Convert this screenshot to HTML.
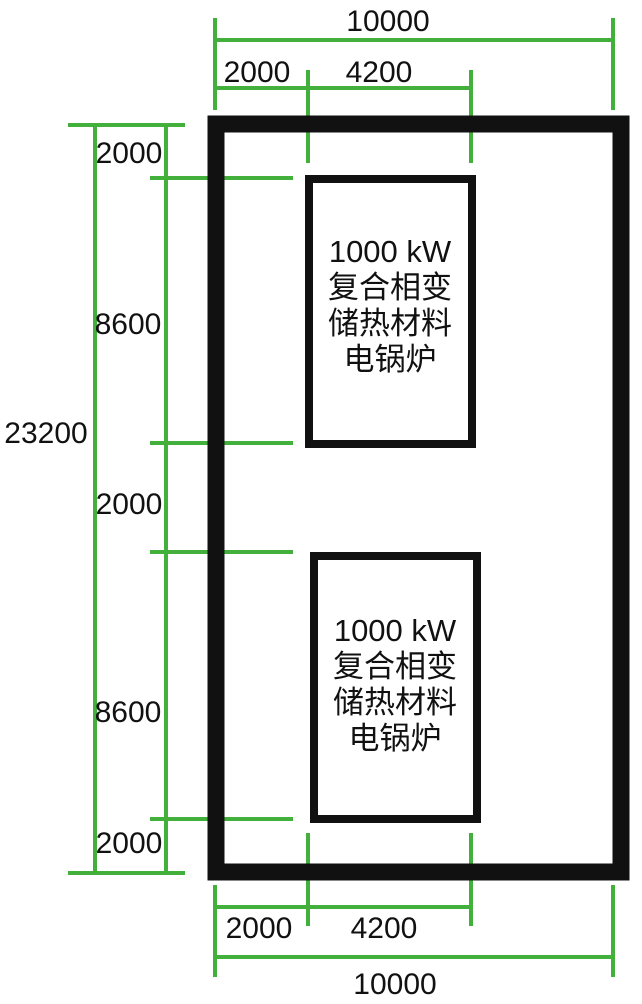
<!DOCTYPE html>
<html><head><meta charset="utf-8"><style>
html,body{margin:0;padding:0;background:#fff;}
svg{display:block;}
text{font-family:"Liberation Sans","Noto Sans CJK SC",sans-serif;fill:#111;}
</style></head><body>
<svg width="642" height="1004" viewBox="0 0 642 1004" xmlns="http://www.w3.org/2000/svg">
<g stroke="#42b03a" stroke-width="4" fill="none">
<line x1="215" y1="18" x2="215" y2="110"/>
<line x1="613" y1="18" x2="613" y2="110"/>
<line x1="215" y1="40" x2="613" y2="40"/>
<line x1="215" y1="88" x2="471" y2="88"/>
<line x1="308" y1="70" x2="308" y2="163"/>
<line x1="471" y1="70" x2="471" y2="163"/>
<line x1="215" y1="885" x2="215" y2="977"/>
<line x1="613" y1="885" x2="613" y2="977"/>
<line x1="215" y1="957" x2="613" y2="957"/>
<line x1="215" y1="907" x2="471" y2="907"/>
<line x1="308" y1="833" x2="308" y2="926"/>
<line x1="471" y1="833" x2="471" y2="926"/>
<line x1="68" y1="125" x2="185" y2="125"/>
<line x1="68" y1="873" x2="185" y2="873"/>
<line x1="95" y1="125" x2="95" y2="873"/>
<line x1="166" y1="125" x2="166" y2="873"/>
<line x1="150" y1="178" x2="293" y2="178"/>
<line x1="150" y1="443" x2="293" y2="443"/>
<line x1="150" y1="552" x2="293" y2="552"/>
<line x1="150" y1="819" x2="293" y2="819"/>
</g>
<rect x="216" y="124" width="405" height="748" fill="none" stroke="#111" stroke-width="17"/>
<rect x="309" y="179" width="163" height="265" fill="none" stroke="#111" stroke-width="8"/>
<rect x="314" y="556" width="163" height="263" fill="none" stroke="#111" stroke-width="8"/>
<g font-size="30" text-anchor="middle">
<text x="388" y="31">10000</text>
<text x="257" y="82">2000</text>
<text x="379" y="82">4200</text>
<text x="259" y="938">2000</text>
<text x="384" y="938">4200</text>
<text x="395" y="994">10000</text>
<text x="129" y="163">2000</text>
<text x="128" y="334">8600</text>
<text x="46" y="443">23200</text>
<text x="129" y="514">2000</text>
<text x="128" y="722">8600</text>
<text x="129" y="853">2000</text>
</g>
<g font-size="31" text-anchor="middle">
<text x="390" y="262">1000 kW</text>
<text x="390" y="298">复合相变</text>
<text x="390" y="334">储热材料</text>
<text x="390" y="370">电锅炉</text>
<text x="395" y="641">1000 kW</text>
<text x="395" y="677">复合相变</text>
<text x="395" y="713">储热材料</text>
<text x="395" y="749">电锅炉</text>
</g>
</svg>
</body></html>
